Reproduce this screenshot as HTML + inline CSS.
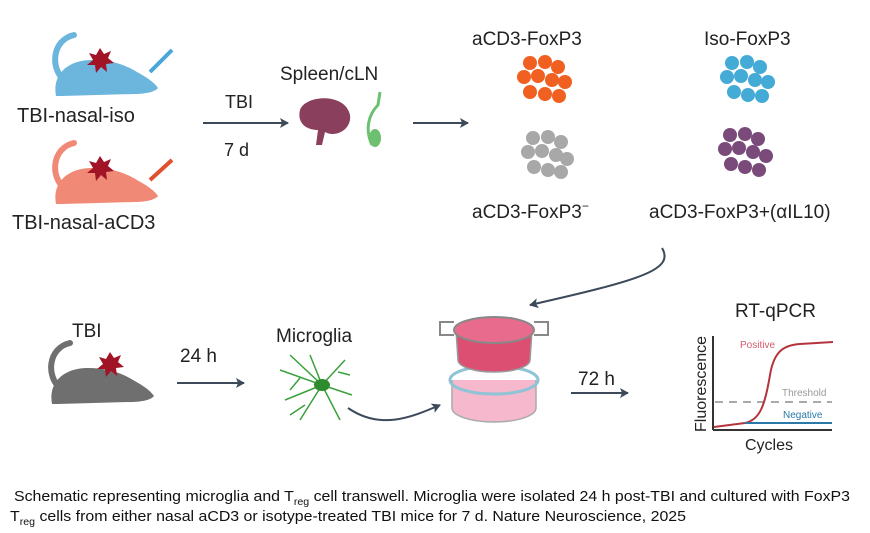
<!DOCTYPE html>
<html><head><meta charset="utf-8"><style>
html,body{margin:0;padding:0;background:#fff;}
svg{display:block;font-family:"Liberation Sans",sans-serif;}
</style></head><body>
<svg width="870" height="533" viewBox="0 0 870 533" xmlns="http://www.w3.org/2000/svg">
<defs>
<marker id="ah" markerWidth="10" markerHeight="10" refX="8" refY="5" orient="auto" markerUnits="userSpaceOnUse"><path d="M0,0 L9,5 L0,10 L2,5 Z" fill="#3d4a5a"/></marker>
<g id="mouse">
<path d="M22,50 C8,38 10,10 32,5" fill="none" stroke-width="6" stroke="currentColor" stroke-linecap="round"/>
<path d="M14,66 C10,45 25,30 50,30 C68,30 82,34 95,42 C104,47 112,52 116,58 C112,63 100,64 92,64 L20,66 Z" fill="currentColor"/>
</g>
</defs>
<!-- mice top -->
<g color="#6cb6de" transform="translate(42,30)"><use href="#mouse"/></g>
<path d="M100,48 l4,6 7,-3 -3,7 6,5 -8,1 1,8 -6,-5 -5,6 -1,-8 -8,0 6,-5 -4,-7 7,2z" fill="#a01425"/>
<path d="M150,72 L172,50" stroke="#4aa6d8" stroke-width="4"/>
<g color="#f08a76" transform="translate(42,138)"><use href="#mouse"/></g>
<path d="M100,156 l4,6 7,-3 -3,7 6,5 -8,1 1,8 -6,-5 -5,6 -1,-8 -8,0 6,-5 -4,-7 7,2z" fill="#a01425"/>
<path d="M150,180 L172,160" stroke="#e0502e" stroke-width="4"/>
<text x="17" y="122" font-size="20" fill="#222">TBI-nasal-iso</text>
<text x="12" y="229" font-size="20" fill="#222">TBI-nasal-aCD3</text>
<text x="225" y="108" font-size="18" fill="#222">TBI</text>
<text x="224" y="156" font-size="18" fill="#222">7 d</text>
<line x1="203" y1="123" x2="288" y2="123" stroke="#3d4a5a" stroke-width="2" marker-end="url(#ah)"/>
<text x="280" y="80" font-size="19" fill="#222">Spleen/cLN</text>
<path d="M300,110 C305,95 345,92 350,115 C352,130 335,138 325,132 L322,145 L316,145 L318,130 C305,130 297,122 300,110Z" fill="#8a3f5c"/>
<path d="M372,145 C365,130 368,115 378,105 L380,92" stroke="#6cc070" stroke-width="3" fill="none"/>
<ellipse cx="375" cy="138" rx="6" ry="9" fill="#6cc070"/>
<line x1="413" y1="123" x2="468" y2="123" stroke="#3d4a5a" stroke-width="2" marker-end="url(#ah)"/>
<text x="472" y="45" font-size="19" fill="#222">aCD3-FoxP3</text>
<text x="704" y="45" font-size="19" fill="#222">Iso-FoxP3</text>
<g fill="#f06020">
<circle cx="530" cy="63" r="7"/><circle cx="545" cy="62" r="7"/><circle cx="558" cy="67" r="7"/>
<circle cx="524" cy="77" r="7"/><circle cx="538" cy="76" r="7"/><circle cx="552" cy="80" r="7"/><circle cx="565" cy="82" r="7"/>
<circle cx="530" cy="92" r="7"/><circle cx="545" cy="94" r="7"/><circle cx="559" cy="96" r="7"/></g>
<g fill="#44aad6">
<circle cx="732" cy="63" r="7"/><circle cx="747" cy="62" r="7"/><circle cx="760" cy="67" r="7"/>
<circle cx="727" cy="77" r="7"/><circle cx="741" cy="76" r="7"/><circle cx="755" cy="80" r="7"/><circle cx="768" cy="82" r="7"/>
<circle cx="734" cy="92" r="7"/><circle cx="748" cy="95" r="7"/><circle cx="762" cy="96" r="7"/></g>
<g fill="#a8a8a8">
<circle cx="533" cy="138" r="7"/><circle cx="548" cy="137" r="7"/><circle cx="561" cy="142" r="7"/>
<circle cx="528" cy="152" r="7"/><circle cx="542" cy="151" r="7"/><circle cx="556" cy="155" r="7"/><circle cx="567" cy="159" r="7"/>
<circle cx="534" cy="167" r="7"/><circle cx="548" cy="170" r="7"/><circle cx="561" cy="172" r="7"/></g>
<g fill="#7a4a7a">
<circle cx="730" cy="135" r="7"/><circle cx="745" cy="134" r="7"/><circle cx="758" cy="139" r="7"/>
<circle cx="725" cy="149" r="7"/><circle cx="739" cy="148" r="7"/><circle cx="753" cy="152" r="7"/><circle cx="766" cy="156" r="7"/>
<circle cx="731" cy="164" r="7"/><circle cx="745" cy="167" r="7"/><circle cx="759" cy="170" r="7"/></g>
<text x="472" y="218" font-size="19" fill="#222">aCD3-FoxP3<tspan font-size="12" dy="-8">−</tspan></text>
<text x="649" y="218" font-size="19" fill="#222">aCD3-FoxP3+(αIL10)</text>
<path d="M662,248 C675,270 640,280 530,305" fill="none" stroke="#3d4a5a" stroke-width="2" marker-end="url(#ah)"/>
<!-- bottom -->
<text x="72" y="337" font-size="19" fill="#222">TBI</text>
<g color="#6f6f6f" transform="translate(38,338)"><use href="#mouse"/></g>
<path d="M110,352 l4,6 7,-3 -3,7 6,5 -8,1 1,8 -6,-5 -5,6 -1,-8 -8,0 6,-5 -4,-7 7,2z" fill="#a01425"/>
<text x="180" y="362" font-size="19" fill="#222">24 h</text>
<line x1="177" y1="383" x2="244" y2="383" stroke="#3d4a5a" stroke-width="2" marker-end="url(#ah)"/>
<text x="276" y="342" font-size="19" fill="#222">Microglia</text>
<g stroke="#3aa13a" stroke-width="1.5" fill="none">
<path d="M322,385 L280,370 M322,385 L285,400 M322,385 L300,420 M322,385 L340,420 M322,385 L352,395 M322,385 L345,360 M322,385 L310,355 M322,385 L290,355 M300,378 L290,390 M338,372 L350,375 M305,405 L290,415"/></g>
<ellipse cx="322" cy="385" rx="8" ry="6" fill="#2e8b2e"/>
<path d="M348,408 C380,430 410,418 440,405" fill="none" stroke="#3d4a5a" stroke-width="2" marker-end="url(#ah)"/>
<!-- transwell -->
<ellipse cx="494" cy="408" rx="42" ry="14" fill="#f3a3bc"/>
<path d="M452,380 L452,408 A42,14 0 0 0 536,408 L536,380" fill="#f6b8cc" stroke="#aaa" stroke-width="1.5"/>
<ellipse cx="494" cy="380" rx="44" ry="14" fill="none" stroke="#8fc3d6" stroke-width="3"/>
<path d="M456,330 L458,360 A36,12 0 0 0 530,360 L532,330" fill="#dc4f73" stroke="#999" stroke-width="1.5"/>
<ellipse cx="494" cy="330" rx="40" ry="13" fill="#e86b8e" stroke="#888" stroke-width="2"/>
<path d="M454,322 L440,322 L440,335 L454,335 M534,322 L548,322 L548,335 L534,335" fill="none" stroke="#888" stroke-width="2"/>
<text x="578" y="385" font-size="19" fill="#222">72 h</text>
<line x1="571" y1="393" x2="628" y2="393" stroke="#3d4a5a" stroke-width="2" marker-end="url(#ah)"/>
<!-- qPCR -->
<text x="735" y="317" font-size="19" fill="#222">RT-qPCR</text>
<line x1="713" y1="336" x2="713" y2="430" stroke="#333" stroke-width="2"/>
<line x1="713" y1="430" x2="832" y2="430" stroke="#333" stroke-width="2"/>
<text transform="translate(706,432) rotate(-90)" font-size="16" fill="#222">Fluorescence</text>
<text x="745" y="450" font-size="16" fill="#222">Cycles</text>
<line x1="715" y1="402" x2="832" y2="402" stroke="#777" stroke-dasharray="8,6" stroke-width="1.2"/>
<path d="M714,427 L745,423 C760,420 765,405 770,375 C774,350 785,345 800,344 L833,342" fill="none" stroke="#b3343c" stroke-width="2"/>
<line x1="745" y1="423" x2="832" y2="423" stroke="#2a79a8" stroke-width="2"/>
<text x="740" y="348" font-size="10" fill="#d25a6a">Positive</text>
<text x="782" y="396" font-size="10" fill="#999">Threshold</text>
<text x="783" y="418" font-size="10" fill="#2a79a8">Negative</text>
<!-- caption -->
<text x="14" y="501" font-size="15" fill="#111" textLength="836" lengthAdjust="spacingAndGlyphs">Schematic representing microglia and T<tspan font-size="10" dy="4">reg</tspan><tspan dy="-4"> cell transwell. Microglia were isolated 24 h post-TBI and cultured with FoxP3</tspan></text>
<text x="10" y="521" font-size="15" fill="#111" textLength="676" lengthAdjust="spacingAndGlyphs">T<tspan font-size="10" dy="4">reg</tspan><tspan dy="-4"> cells from either nasal aCD3 or isotype-treated TBI mice for 7 d. Nature Neuroscience, 2025</tspan></text>
</svg>
</body></html>
